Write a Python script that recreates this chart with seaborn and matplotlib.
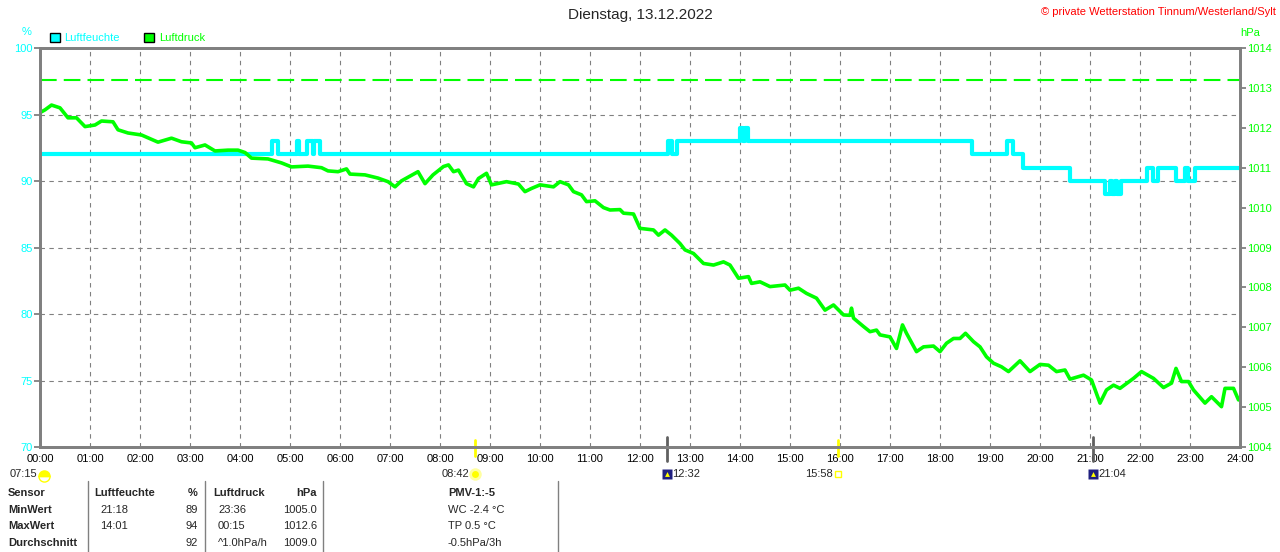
import matplotlib
matplotlib.use("Agg")
import matplotlib.pyplot as plt
import seaborn as sns
from matplotlib.lines import Line2D
from matplotlib.patches import Patch
from matplotlib.markers import MarkerStyle

sns.set_style("white")
plt.rcParams["font.family"] = ["Liberation Sans", "DejaVu Sans"]

CYAN = "#00FFFF"
GREEN = "#00FF00"
GRAY = "#808080"

title = "Dienstag, 13.12.2022"
copyright_text = "© private Wetterstation Tinnum/Westerland/Sylt"

# humidity (%), change points of the step line, hours since midnight
hum_hours = [0.0, 4.64, 4.76, 5.14, 5.18, 5.34, 5.45, 5.48, 5.6, 12.56, 12.64, 12.73,
             14.0, 14.06, 14.09, 14.16, 18.64, 19.34, 19.46, 19.66, 20.6, 21.3, 21.4,
             21.44, 21.5, 21.53, 21.62, 22.14, 22.26, 22.36, 22.72, 22.9, 22.95, 23.1, 24.0]
hum_values = [92, 93, 92, 93, 92, 93, 92, 93, 92, 93, 92, 93,
              94, 93, 94, 93, 92, 93, 92, 91, 90, 89, 90,
              89, 90, 89, 90, 91, 90, 91, 90, 91, 90, 91, 91]

# air pressure (hPa)
pres_hours = [0.0, 0.1, 0.23, 0.4, 0.56, 0.73, 0.9, 1.1, 1.23, 1.46, 1.56, 1.76, 2.03,
              2.36, 2.63, 2.83, 3.03, 3.1, 3.3, 3.5, 3.76, 3.96, 4.1, 4.23, 4.56, 4.83,
              5.03, 5.36, 5.63, 5.76, 5.96, 6.13, 6.2, 6.5, 6.76, 6.96, 7.1, 7.23, 7.56,
              7.7, 7.86, 8.07, 8.17, 8.27, 8.37, 8.53, 8.67, 8.77, 8.93, 9.03, 9.33, 9.57,
              9.7, 9.83, 10.0, 10.27, 10.4, 10.57, 10.67, 10.83, 10.93, 11.1, 11.27, 11.4,
              11.6, 11.67, 11.87, 12.0, 12.27, 12.37, 12.5, 12.63, 12.8, 12.9, 13.07,
              13.27, 13.47, 13.67, 13.8, 13.97, 14.17, 14.23, 14.4, 14.6, 14.9, 15.0,
              15.17, 15.33, 15.53, 15.7, 15.87, 16.07, 16.2, 16.23, 16.27, 16.47, 16.6,
              16.73, 16.8, 17.0, 17.13, 17.25, 17.33, 17.53, 17.67, 17.87, 18.0, 18.13,
              18.27, 18.4, 18.51, 18.67, 18.8, 18.93, 19.07, 19.23, 19.37, 19.6, 19.8,
              20.0, 20.17, 20.33, 20.5, 20.6, 20.87, 21.03, 21.2, 21.33, 21.47, 21.6,
              21.87, 22.03, 22.27, 22.47, 22.63, 22.72, 22.83, 22.97, 23.07, 23.3, 23.43,
              23.63, 23.7, 23.87, 23.97]
pres_values = [1012.38, 1012.45, 1012.57, 1012.5, 1012.25, 1012.25, 1012.03, 1012.07,
               1012.17, 1012.15, 1011.95, 1011.87, 1011.82, 1011.64, 1011.74, 1011.65,
               1011.62, 1011.5, 1011.57, 1011.42, 1011.44, 1011.44, 1011.38, 1011.24,
               1011.22, 1011.12, 1011.02, 1011.04, 1011.0, 1010.92, 1010.9, 1010.97,
               1010.84, 1010.82, 1010.74, 1010.65, 1010.52, 1010.67, 1010.9, 1010.6,
               1010.82, 1011.03, 1011.07, 1010.9, 1010.94, 1010.6, 1010.52, 1010.73,
               1010.86, 1010.57, 1010.65, 1010.59, 1010.4, 1010.48, 1010.57, 1010.52,
               1010.65, 1010.57, 1010.4, 1010.32, 1010.15, 1010.17, 1010.0, 1009.94,
               1009.95, 1009.86, 1009.84, 1009.48, 1009.44, 1009.31, 1009.44, 1009.31,
               1009.1, 1008.94, 1008.85, 1008.6, 1008.56, 1008.64, 1008.56, 1008.23,
               1008.27, 1008.1, 1008.14, 1008.02, 1008.06, 1007.93, 1007.98, 1007.85,
               1007.73, 1007.43, 1007.56, 1007.31, 1007.3, 1007.48, 1007.23, 1007.02,
               1006.89, 1006.93, 1006.81, 1006.76, 1006.47, 1007.06, 1006.85, 1006.39,
               1006.51, 1006.53, 1006.39, 1006.6, 1006.72, 1006.72, 1006.85, 1006.64,
               1006.51, 1006.26, 1006.1, 1006.01, 1005.89, 1006.16, 1005.89, 1006.07,
               1006.05, 1005.89, 1005.93, 1005.7, 1005.8, 1005.68, 1005.1, 1005.43,
               1005.55, 1005.47, 1005.72, 1005.89, 1005.72, 1005.49, 1005.6, 1005.97,
               1005.64, 1005.64, 1005.43, 1005.1, 1005.26, 1005.01, 1005.47, 1005.47,
               1005.18]
pres_reference = 1013.2

hour_ticks = list(range(25))
hour_labels = [f"{h:02d}:00" for h in hour_ticks]
hum_ticks = [70, 75, 80, 85, 90, 95, 100]
pres_ticks = list(range(1004, 1015))

# sun / moon events: label, hour, kind
event_labels = ["07:15", "08:42", "12:32", "15:58", "21:04"]
event_hours = [0.0, 8.7, 12.533, 15.967, 21.067]
event_kinds = ["dawn", "sunrise", "moonset", "sunset", "moonrise"]

table_rows = [
    ["Sensor", "Luftfeuchte", "%", "Luftdruck", "hPa", "PMV-1:-5"],
    ["MinWert", "21:18", "89", "23:36", "1005.0", "WC -2.4 °C"],
    ["MaxWert", "14:01", "94", "00:15", "1012.6", "TP 0.5 °C"],
    ["Durchschnitt", "", "92", "^1.0hPa/h", "1009.0", "-0.5hPa/3h"],
]

W, H = 1280, 552
fig = plt.figure(figsize=(W / 100, H / 100), dpi=100)
ax = fig.add_axes([40 / W, 1 - 447 / H, 1200 / W, 399 / H])
ax2 = ax.twinx()

sns.lineplot(x=pres_hours, y=pres_values, ax=ax2, color=GREEN, lw=2.6,
             estimator=None, sort=False)
sns.lineplot(x=hum_hours, y=hum_values, ax=ax, color=CYAN, lw=3,
             drawstyle="steps-post", estimator=None, sort=False)
ax2.axhline(pres_reference, color=GREEN, lw=1.5, ls=(0, (8, 3.4)))

ax.set_xlim(0, 24)
ax.set_ylim(70, 100)
ax2.set_ylim(1004, 1014)
ax.set_xticks(hour_ticks)
ax.set_xticklabels(hour_labels)
ax.set_yticks(hum_ticks)
ax2.set_yticks(pres_ticks)
for a in (ax, ax2):
    a.set_xlabel("")
    a.set_ylabel("")
ax.grid(True, color=GRAY, ls=(0, (4, 4)), lw=0.8)

ax.tick_params(axis="x", length=0, labelsize=8, pad=5, labelcolor="black")
ax.tick_params(axis="y", length=4, width=1.3, color=GRAY, labelsize=8,
               labelcolor=CYAN, pad=1, left=True)
ax2.tick_params(axis="y", length=4, width=1.3, color=GRAY, labelsize=8,
                labelcolor=GREEN, pad=1, right=True)
for a in (ax, ax2):
    for s in a.spines.values():
        s.set_color(GRAY)
        s.set_linewidth(2)

# sun / moon markers below the time axis
xt = ax.get_xaxis_transform()
for lab, h, kind in zip(event_labels, event_hours, event_kinds):
    if kind in ("sunrise", "sunset"):
        ax.plot([h, h], [0.0175, -0.0225], color="#FFFF00", lw=2, transform=xt, clip_on=False)
    elif kind in ("moonset", "moonrise"):
        ax.plot([h, h], [0.025, -0.035], color="#606060", lw=2, transform=xt, clip_on=False)
    y_icon = -0.0677
    if kind == "dawn":
        ax.plot([h + 0.08], [y_icon - 0.005], marker=MarkerStyle("o", fillstyle="top"),
                ms=8, color="#FFFF00", mec="#FFFF00", transform=xt, clip_on=False)
        ax.annotate(lab, (h, y_icon), xycoords=xt, xytext=(-2, 0), textcoords="offset points",
                    ha="right", va="center", fontsize=8)
    elif kind == "sunrise":
        ax.plot([h], [y_icon], marker="o", ms=9, color="#FFFFA0", mec="none",
                transform=xt, clip_on=False)
        ax.plot([h], [y_icon], marker="o", ms=5, color="#FFFF00", mec="none",
                transform=xt, clip_on=False)
        ax.annotate(lab, (h, y_icon), xycoords=xt, xytext=(-4, 0), textcoords="offset points",
                    ha="right", va="center", fontsize=8)
    elif kind == "sunset":
        ax.plot([h], [y_icon], marker="s", ms=4, mfc="none", mec="#FFFF00", mew=1,
                transform=xt, clip_on=False)
        ax.annotate(lab, (h, y_icon), xycoords=xt, xytext=(-4, 0), textcoords="offset points",
                    ha="right", va="center", fontsize=8)
    else:
        ax.plot([h], [y_icon], marker="s", ms=7, color="#202080", mec="none",
                transform=xt, clip_on=False)
        ax.plot([h], [y_icon], marker="^", ms=3.5, color="#FFFF00", mec="none",
                transform=xt, clip_on=False)
        ax.annotate(lab, (h, y_icon), xycoords=xt, xytext=(4, 0), textcoords="offset points",
                    ha="left", va="center", fontsize=8)

# titles and axis units
fig.text(0.5, 1 - 15 / H, title, ha="center", va="center", fontsize=11)
fig.text(1276 / W, 1 - 12 / H, copyright_text, ha="right", va="center", fontsize=8, color="red")
fig.text(27 / W, 1 - 32 / H, "%", ha="center", va="center", fontsize=8, color=CYAN)
fig.text(1250 / W, 1 - 33 / H, "hPa", ha="center", va="center", fontsize=8, color=GREEN)

# legend
leg = fig.legend(handles=[Patch(fc=CYAN, ec="black", lw=1, label="Luftfeuchte"),
                          Patch(fc=GREEN, ec="black", lw=1, label="Luftdruck")],
                 loc="center left", bbox_to_anchor=(50 / W, 1 - 38 / H), ncol=2,
                 frameon=False, fontsize=8, handlelength=0.9, handleheight=0.9,
                 handletextpad=0.4, columnspacing=2.2, borderaxespad=0, borderpad=0)
for t, c in zip(leg.get_texts(), [CYAN, GREEN]):
    t.set_color(c)

# summary table
row_y = [493, 510, 526, 543]
col_x = [8, 94, 198, 213, 317, 448]
col_ha = ["left", "left", "right", "left", "right", "left"]
col_dx = [0, 6, 0, 5, 0, 0]
for r, (row, py) in enumerate(zip(table_rows, row_y)):
    for c, txt in enumerate(row):
        bold = (r == 0) or (c == 0)
        dx = 0 if r == 0 else col_dx[c]
        fig.text((col_x[c] + dx) / W, 1 - py / H, txt, ha=col_ha[c], va="center",
                 fontsize=8, fontweight="bold" if bold else "normal")
for px in [88, 205, 323, 558]:
    fig.add_artist(Line2D([px / W, px / W], [1 - 481 / H, 0], color=GRAY, lw=1))

fig.savefig("out.png", dpi=100)
